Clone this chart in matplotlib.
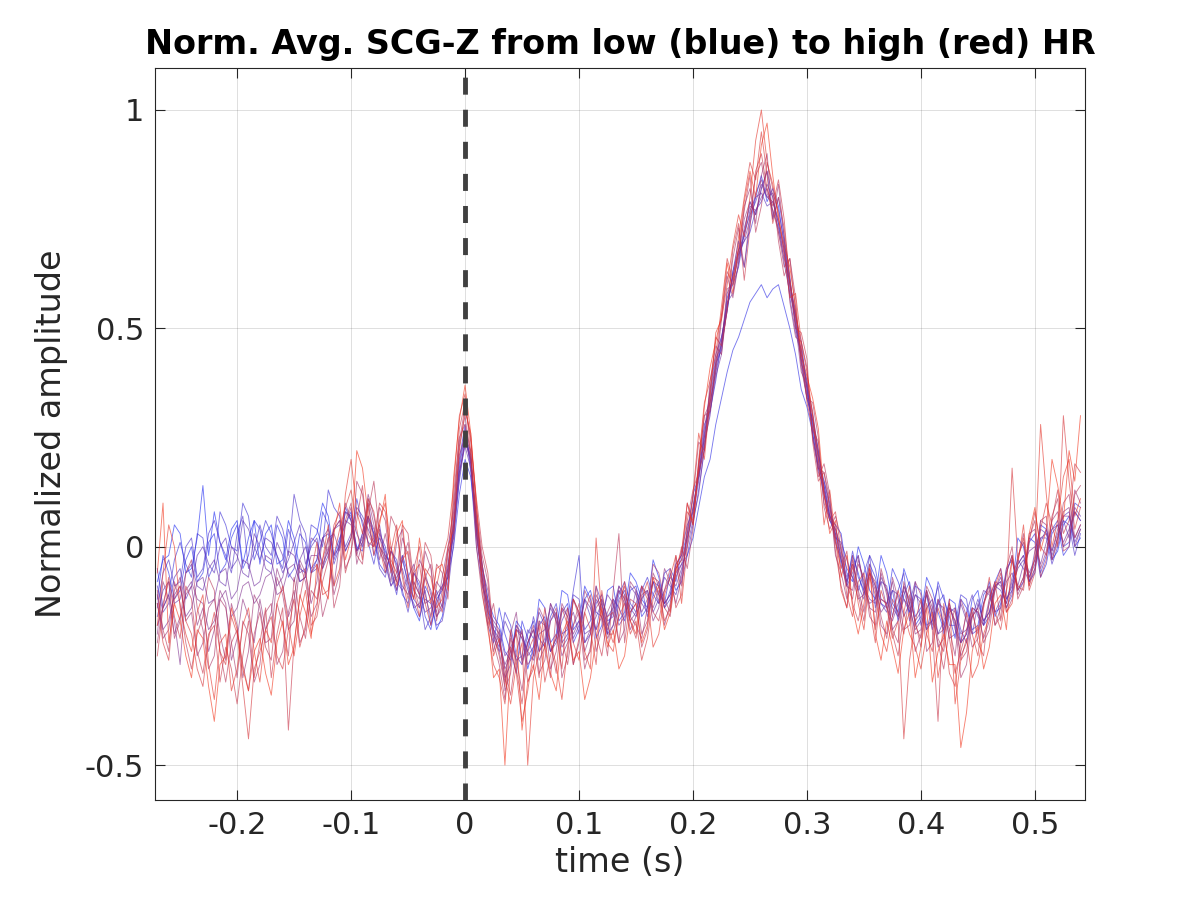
import numpy as np
import matplotlib
matplotlib.use("Agg")
import matplotlib.pyplot as plt

plt.rcParams['font.family'] = ['DejaVu Sans']
plt.rcParams['axes.unicode_minus'] = False

# time grid (s), 5 ms sampling from -0.27 s to 0.54 s
time_s = np.linspace(-0.27, 0.54, 163)

# normalized averaged SCG-Z traces, ordered from low HR (blue) to high HR (red)
trace_00 = [-0.08,-0.03,-0.02,0.05,0.03,-0.06,-0.05,0.02,0.14,-0.02,0.08,0.01,-0.03,0.04,0.06,-0.04,0.02,0.06,-0.04,0.03,
            0.05,-0.04,-0.03,0.06,0.02,-0.05,-0.06,0.01,0.03,0.10,0.07,-0.02,0.02,0.05,0.08,-0.01,0.03,0.07,-0.02,0.02,
            -0.01,-0.05,-0.10,-0.03,-0.08,-0.14,-0.17,-0.09,-0.12,-0.19,-0.16,-0.08,0.05,0.18,0.26,0.20,0.06,-0.04,-0.12,-0.16,
            -0.18,-0.24,-0.26,-0.17,-0.19,-0.28,-0.23,-0.12,-0.14,-0.22,-0.20,-0.10,-0.11,-0.19,-0.17,-0.09,-0.12,-0.21,-0.18,-0.10,
            -0.09,-0.17,-0.15,-0.06,-0.08,-0.12,-0.14,-0.03,-0.07,-0.13,-0.11,-0.04,-0.02,0.03,0.12,0.16,0.25,0.36,0.44,0.48,
            0.54,0.63,0.70,0.64,0.74,0.80,0.85,0.79,0.82,0.78,0.69,0.60,0.54,0.43,0.34,0.29,0.22,0.13,0.07,0.05,
            0.03,-0.06,-0.08,0.00,-0.04,-0.10,-0.12,-0.02,-0.06,-0.13,-0.15,-0.05,-0.09,-0.18,-0.16,-0.07,-0.10,-0.15,-0.19,-0.12,
            -0.13,-0.22,-0.20,-0.12,-0.10,-0.18,-0.16,-0.08,-0.05,-0.12,-0.10,0.02,0.00,-0.08,-0.06,0.05,0.04,-0.03,-0.01,0.05,
            0.07,0.00,0.02]
trace_01 = [-0.12,-0.02,-0.06,-0.12,-0.10,-0.03,0.00,-0.08,-0.06,0.01,0.03,-0.06,-0.04,0.02,0.05,-0.05,-0.02,0.06,0.04,-0.03,
            -0.04,0.05,0.02,-0.07,-0.05,0.03,0.01,-0.06,-0.03,0.08,0.05,-0.03,0.01,0.09,0.06,0.00,-0.01,0.07,0.03,-0.04,
            -0.06,-0.01,-0.04,-0.11,-0.13,-0.06,-0.09,-0.16,-0.19,-0.12,-0.10,-0.07,0.00,0.12,0.20,0.16,0.04,-0.08,-0.18,-0.22,
            -0.14,-0.20,-0.24,-0.29,-0.17,-0.21,-0.25,-0.18,-0.16,-0.24,-0.21,-0.15,-0.13,-0.22,-0.19,-0.12,-0.10,-0.15,-0.16,-0.20,
            -0.12,-0.14,-0.17,-0.10,-0.09,-0.16,-0.14,-0.08,-0.11,-0.13,-0.06,-0.10,-0.08,-0.02,0.02,0.09,0.16,0.20,0.28,0.34,
            0.40,0.45,0.48,0.52,0.56,0.58,0.60,0.57,0.59,0.60,0.55,0.50,0.44,0.36,0.32,0.26,0.18,0.12,0.06,0.03,
            -0.03,-0.08,-0.02,-0.06,-0.11,-0.04,-0.07,-0.13,-0.14,-0.05,-0.08,-0.12,-0.15,-0.09,-0.10,-0.18,-0.17,-0.08,-0.12,-0.16,
            -0.21,-0.12,-0.14,-0.19,-0.18,-0.11,-0.09,-0.16,-0.13,-0.05,-0.03,-0.10,-0.08,0.02,0.01,-0.07,-0.04,0.03,0.05,-0.02,
            0.00,0.08,0.06]
trace_02 = [-0.05,-0.14,-0.11,-0.03,0.01,-0.04,-0.07,0.03,0.02,-0.07,-0.04,0.08,0.05,0.00,-0.01,0.10,0.07,-0.03,0.01,0.06,
            0.03,-0.02,-0.05,0.04,0.00,-0.08,-0.07,0.05,0.04,0.00,0.13,0.09,0.07,-0.01,0.02,0.11,0.05,0.01,-0.04,0.03,
            0.00,-0.06,-0.11,-0.02,-0.06,-0.12,-0.14,-0.10,-0.18,-0.13,-0.09,-0.05,0.06,0.20,0.28,0.17,0.00,-0.09,-0.13,-0.20,
            -0.23,-0.15,-0.18,-0.25,-0.27,-0.20,-0.17,-0.24,-0.22,-0.16,-0.13,-0.20,-0.19,-0.10,-0.02,-0.22,-0.20,-0.13,-0.11,-0.17,
            -0.16,-0.11,-0.08,-0.13,-0.15,-0.10,-0.07,-0.11,-0.13,-0.06,-0.05,-0.08,-0.01,0.05,0.08,0.18,0.28,0.31,0.38,0.47,
            0.57,0.60,0.64,0.72,0.79,0.76,0.82,0.86,0.75,0.80,0.71,0.62,0.50,0.45,0.38,0.26,0.18,0.15,0.10,0.02,
            -0.04,-0.09,-0.01,-0.07,-0.10,-0.02,-0.05,-0.12,-0.13,-0.10,-0.17,-0.11,-0.08,-0.16,-0.14,-0.10,-0.19,-0.13,-0.11,-0.18,
            -0.18,-0.11,-0.12,-0.20,-0.19,-0.13,-0.08,-0.15,-0.14,-0.06,-0.02,-0.10,-0.07,0.01,0.03,-0.06,-0.02,0.04,0.06,0.00,
            0.01,0.10,0.09]
trace_03 = [-0.14,-0.06,-0.03,-0.09,-0.08,0.00,0.02,-0.07,-0.05,0.03,0.06,0.01,-0.02,-0.06,0.03,0.07,-0.05,-0.01,0.05,0.00,
            -0.02,0.07,0.04,-0.02,0.12,0.06,0.03,-0.06,-0.05,0.02,0.03,-0.04,0.00,0.08,0.07,0.03,0.00,0.10,0.02,-0.05,
            -0.07,-0.01,-0.03,-0.10,-0.15,-0.08,-0.11,-0.19,-0.16,-0.10,-0.14,-0.06,0.03,0.15,0.24,0.21,0.03,-0.07,-0.16,-0.19,
            -0.21,-0.30,-0.27,-0.18,-0.20,-0.24,-0.16,-0.21,-0.23,-0.17,-0.15,-0.22,-0.20,-0.11,-0.12,-0.19,-0.17,-0.09,-0.13,-0.20,
            -0.18,-0.12,-0.10,-0.15,-0.13,-0.09,-0.16,-0.11,-0.08,-0.14,-0.12,-0.06,-0.04,-0.02,0.05,0.13,0.22,0.34,0.42,0.45,
            0.55,0.62,0.67,0.70,0.72,0.77,0.79,0.83,0.80,0.74,0.65,0.58,0.53,0.47,0.36,0.28,0.19,0.14,0.07,0.02,
            0.01,-0.03,-0.07,-0.10,-0.06,-0.02,-0.14,-0.08,-0.09,-0.16,-0.10,-0.06,-0.17,-0.11,-0.12,-0.19,-0.14,-0.09,-0.20,-0.15,
            -0.14,-0.19,-0.22,-0.16,-0.12,-0.17,-0.15,-0.09,-0.08,-0.14,-0.11,-0.04,-0.02,-0.08,-0.05,0.02,0.02,-0.04,0.00,0.06,
            0.05,-0.02,0.03]
trace_04 = [-0.09,-0.15,-0.13,-0.07,-0.05,-0.12,-0.09,-0.02,0.00,-0.04,-0.06,0.00,0.02,-0.05,-0.03,0.06,0.04,0.00,-0.03,0.02,
            0.01,-0.02,-0.06,-0.03,0.01,0.05,-0.04,0.00,0.02,-0.05,-0.02,0.04,0.06,0.00,0.03,0.09,0.07,0.04,0.01,0.05,
            -0.03,-0.09,-0.07,-0.05,-0.10,-0.13,-0.16,-0.12,-0.13,-0.18,-0.17,-0.10,0.01,0.16,0.25,0.19,0.05,-0.05,-0.14,-0.21,
            -0.24,-0.17,-0.20,-0.26,-0.25,-0.19,-0.21,-0.15,-0.18,-0.24,-0.22,-0.17,-0.14,-0.21,-0.18,-0.12,-0.16,-0.19,-0.12,-0.16,
            -0.14,-0.09,-0.11,-0.14,-0.16,-0.12,-0.10,-0.15,-0.12,-0.07,-0.09,-0.11,-0.06,0.01,0.09,0.17,0.26,0.33,0.40,0.46,
            0.54,0.63,0.68,0.71,0.77,0.80,0.81,0.78,0.79,0.74,0.68,0.57,0.49,0.44,0.37,0.27,0.21,0.15,0.09,0.03,
            -0.02,-0.07,-0.04,-0.09,-0.12,-0.06,-0.09,-0.13,-0.15,-0.10,-0.11,-0.16,-0.13,-0.08,-0.18,-0.14,-0.12,-0.20,-0.17,-0.13,
            -0.19,-0.22,-0.15,-0.11,-0.16,-0.18,-0.13,-0.09,-0.10,-0.13,-0.07,-0.03,-0.05,-0.08,-0.01,0.04,0.03,-0.02,0.02,0.07,
            0.08,0.01,0.04]
trace_05 = [-0.16,-0.10,-0.08,-0.13,-0.12,-0.06,-0.04,-0.09,-0.10,-0.05,-0.03,-0.08,-0.09,0.00,-0.02,-0.06,-0.07,0.03,0.00,-0.05,
            -0.06,0.01,-0.02,-0.06,-0.08,-0.03,0.00,-0.05,-0.03,0.02,0.04,-0.02,0.00,0.08,0.06,-0.01,0.02,0.06,0.03,-0.01,
            -0.04,-0.09,-0.06,-0.02,-0.09,-0.14,-0.13,-0.07,-0.10,-0.16,-0.14,-0.05,0.04,0.17,0.23,0.18,0.07,-0.04,-0.12,-0.18,
            -0.20,-0.28,-0.25,-0.19,-0.21,-0.24,-0.26,-0.20,-0.19,-0.14,-0.17,-0.23,-0.21,-0.12,-0.15,-0.20,-0.19,-0.16,-0.13,-0.18,
            -0.15,-0.10,-0.12,-0.16,-0.10,-0.13,-0.15,-0.08,-0.09,-0.14,-0.10,-0.05,-0.03,0.02,0.07,0.15,0.24,0.30,0.41,0.47,
            0.56,0.58,0.65,0.72,0.76,0.79,0.83,0.80,0.81,0.77,0.70,0.61,0.52,0.42,0.34,0.29,0.20,0.12,0.06,0.04,
            0.00,-0.09,-0.06,-0.02,-0.09,-0.12,-0.13,-0.07,-0.10,-0.14,-0.16,-0.09,-0.12,-0.17,-0.15,-0.11,-0.18,-0.13,-0.14,-0.21,
            -0.20,-0.13,-0.17,-0.20,-0.13,-0.17,-0.15,-0.10,-0.07,-0.12,-0.09,-0.05,-0.03,-0.07,-0.04,0.01,0.04,-0.01,0.03,0.06,
            0.02,0.09,0.07]
trace_06 = [-0.13,-0.19,-0.17,-0.11,-0.09,-0.16,-0.14,-0.08,-0.07,-0.13,-0.12,-0.06,-0.05,-0.12,-0.10,-0.03,-0.04,-0.09,-0.08,-0.02,
            -0.03,-0.09,-0.07,-0.01,-0.02,-0.06,-0.05,0.02,0.01,-0.04,-0.01,0.04,0.05,-0.01,0.02,0.08,0.06,0.01,0.00,0.04,
            -0.02,-0.04,-0.08,-0.10,-0.07,-0.04,-0.11,-0.15,-0.14,-0.11,-0.09,-0.07,0.03,0.19,0.27,0.19,0.02,-0.07,-0.15,-0.17,
            -0.19,-0.25,-0.23,-0.20,-0.26,-0.22,-0.19,-0.24,-0.21,-0.13,-0.16,-0.21,-0.18,-0.15,-0.20,-0.12,-0.14,-0.19,-0.16,-0.11,
            -0.13,-0.18,-0.16,-0.09,-0.11,-0.15,-0.12,-0.08,-0.13,-0.10,-0.07,-0.09,-0.05,0.00,0.06,0.12,0.23,0.31,0.39,0.44,
            0.58,0.61,0.66,0.73,0.78,0.77,0.80,0.82,0.77,0.73,0.67,0.59,0.51,0.45,0.36,0.25,0.17,0.14,0.08,0.01,
            -0.03,-0.08,-0.05,-0.02,-0.10,-0.13,-0.12,-0.08,-0.14,-0.17,-0.13,-0.10,-0.15,-0.11,-0.13,-0.19,-0.17,-0.12,-0.18,-0.14,
            -0.15,-0.20,-0.19,-0.16,-0.14,-0.10,-0.11,-0.15,-0.12,-0.08,-0.06,-0.09,-0.04,-0.01,0.00,-0.04,0.01,0.04,0.05,0.01,
            0.04,0.08,0.06]
trace_07 = [-0.18,-0.14,-0.11,-0.17,-0.27,-0.10,-0.08,-0.12,-0.13,-0.19,-0.17,-0.12,-0.10,-0.16,-0.14,-0.09,-0.08,-0.13,-0.11,-0.07,
            -0.06,-0.11,-0.10,-0.05,-0.04,-0.08,-0.07,-0.02,-0.02,-0.05,0.02,0.03,-0.01,0.06,0.05,-0.01,0.01,0.07,0.04,0.00,
            -0.03,0.00,-0.05,-0.09,-0.11,-0.06,-0.08,-0.13,-0.12,-0.08,-0.10,-0.04,0.05,0.17,0.24,0.20,0.04,-0.06,-0.13,-0.19,
            -0.22,-0.27,-0.24,-0.19,-0.20,-0.25,-0.23,-0.17,-0.18,-0.24,-0.21,-0.14,-0.16,-0.20,-0.17,-0.22,-0.19,-0.12,-0.15,-0.19,
            -0.14,-0.10,-0.13,-0.17,-0.15,-0.09,-0.11,-0.14,-0.10,-0.13,-0.11,-0.07,-0.04,0.02,0.08,0.16,0.25,0.32,0.42,0.48,
            0.55,0.62,0.68,0.70,0.75,0.81,0.84,0.80,0.79,0.75,0.68,0.60,0.53,0.43,0.35,0.30,0.22,0.13,0.07,0.04,
            -0.01,-0.05,-0.07,-0.12,-0.11,-0.06,-0.10,-0.15,-0.13,-0.08,-0.16,-0.12,-0.14,-0.19,-0.17,-0.11,-0.15,-0.20,-0.19,-0.14,
            -0.17,-0.22,-0.20,-0.14,-0.15,-0.18,-0.12,-0.08,-0.09,-0.13,-0.08,-0.04,-0.02,-0.06,-0.03,0.02,0.03,-0.01,0.04,0.07,
            0.07,0.02,0.05]
trace_08 = [-0.20,-0.08,-0.12,-0.20,-0.16,-0.11,-0.09,-0.18,-0.14,-0.24,-0.19,-0.10,-0.13,-0.26,-0.21,-0.12,-0.16,-0.22,-0.12,-0.19,
            -0.15,-0.05,-0.09,-0.16,-0.12,-0.03,-0.06,-0.13,-0.08,0.02,-0.02,-0.09,0.01,0.10,0.06,-0.02,0.03,0.12,0.07,0.00,
            -0.02,-0.08,0.01,0.04,-0.07,-0.12,-0.03,-0.06,-0.11,-0.15,-0.07,0.00,0.08,0.21,0.25,0.22,0.06,-0.05,-0.10,-0.19,
            -0.24,-0.31,-0.20,-0.15,-0.27,-0.22,-0.19,-0.26,-0.23,-0.13,-0.17,-0.25,-0.22,-0.18,-0.15,-0.24,-0.20,-0.11,-0.14,-0.21,
            -0.18,-0.09,-0.12,-0.19,-0.16,-0.11,-0.10,-0.17,-0.14,-0.05,-0.08,-0.13,-0.07,0.03,0.09,0.16,0.27,0.35,0.43,0.46,
            0.59,0.60,0.67,0.75,0.79,0.76,0.82,0.86,0.80,0.72,0.66,0.61,0.51,0.40,0.37,0.31,0.21,0.10,0.06,0.05,
            -0.03,-0.09,-0.10,-0.03,-0.08,-0.14,-0.15,-0.06,-0.11,-0.19,-0.17,-0.09,-0.13,-0.20,-0.19,-0.10,-0.14,-0.23,-0.21,-0.13,
            -0.18,-0.25,-0.22,-0.14,-0.15,-0.21,-0.17,-0.09,-0.08,-0.14,-0.10,-0.02,0.01,-0.07,-0.03,0.06,0.05,-0.03,0.02,0.08,
            0.09,0.00,0.04]
trace_09 = [-0.11,-0.21,-0.19,-0.10,-0.07,-0.17,-0.15,-0.25,-0.22,-0.14,-0.12,-0.20,-0.26,-0.13,-0.18,-0.30,-0.24,-0.11,-0.14,-0.22,
            -0.21,-0.07,-0.11,-0.19,-0.17,-0.04,-0.08,-0.16,-0.13,-0.05,0.00,-0.11,-0.06,0.05,0.09,-0.04,0.01,0.11,0.05,-0.03,
            0.03,-0.04,-0.08,0.02,-0.02,-0.10,-0.12,-0.01,-0.05,-0.16,-0.13,-0.02,0.10,0.23,0.30,0.20,0.03,-0.07,-0.15,-0.24,
            -0.19,-0.33,-0.29,-0.18,-0.21,-0.27,-0.25,-0.14,-0.17,-0.28,-0.24,-0.13,-0.16,-0.27,-0.22,-0.10,-0.13,-0.24,-0.19,-0.15,
            -0.12,-0.22,-0.19,-0.08,-0.10,-0.20,-0.17,-0.06,-0.09,-0.18,-0.13,-0.04,-0.02,0.10,0.05,0.19,0.30,0.33,0.40,0.52,
            0.62,0.57,0.65,0.78,0.82,0.74,0.85,0.90,0.75,0.83,0.71,0.56,0.48,0.47,0.41,0.25,0.18,0.17,0.11,-0.02,
            -0.06,-0.12,-0.03,-0.10,-0.15,-0.05,-0.09,-0.18,-0.20,-0.07,-0.12,-0.19,-0.18,-0.08,-0.11,-0.24,-0.22,-0.12,-0.15,-0.19,
            -0.25,-0.12,-0.16,-0.23,-0.21,-0.13,-0.10,-0.18,-0.14,-0.06,-0.02,-0.11,-0.08,0.03,0.04,-0.05,-0.01,0.06,0.08,0.00,
            0.03,0.13,0.10]
trace_10 = [-0.22,-0.13,-0.08,-0.21,-0.17,-0.06,-0.03,-0.14,-0.19,-0.28,-0.25,-0.12,-0.14,-0.22,-0.30,-0.17,-0.20,-0.31,-0.27,-0.15,
            -0.13,-0.27,-0.24,-0.15,-0.10,-0.22,-0.19,-0.06,-0.04,-0.16,-0.11,0.04,0.06,-0.05,-0.02,0.15,0.12,0.03,0.00,0.09,
            0.06,-0.05,-0.10,-0.03,0.01,-0.09,-0.14,-0.07,-0.04,-0.17,-0.10,-0.01,0.02,0.24,0.32,0.25,0.09,-0.02,-0.08,-0.22,
            -0.27,-0.35,-0.21,-0.26,-0.33,-0.22,-0.18,-0.29,-0.26,-0.17,-0.14,-0.30,-0.25,-0.12,-0.16,-0.28,-0.23,-0.14,-0.12,-0.20,
            -0.20,-0.13,-0.09,-0.16,-0.18,-0.21,-0.14,-0.04,-0.06,-0.12,-0.15,-0.02,-0.09,0.04,0.11,0.24,0.22,0.38,0.46,0.44,
            0.55,0.66,0.73,0.64,0.76,0.85,0.88,0.81,0.77,0.72,0.64,0.66,0.57,0.41,0.34,0.33,0.25,0.09,0.04,0.07,
            0.02,-0.09,-0.12,-0.04,-0.07,-0.16,-0.18,-0.05,-0.10,-0.19,-0.22,-0.08,-0.13,-0.24,-0.20,-0.09,-0.12,-0.21,-0.24,-0.14,
            -0.17,-0.30,-0.27,-0.16,-0.14,-0.22,-0.19,-0.10,-0.06,-0.15,-0.12,-0.03,0.03,-0.09,-0.05,0.06,0.07,-0.03,0.01,0.10,
            0.12,0.02,0.05]
trace_11 = [-0.10,-0.19,-0.24,-0.08,-0.13,-0.22,-0.28,-0.20,-0.16,-0.07,-0.10,-0.24,-0.31,-0.22,-0.19,-0.27,-0.33,-0.20,-0.15,-0.23,
            -0.26,-0.13,-0.18,-0.25,-0.07,-0.16,-0.21,-0.10,-0.12,-0.03,0.02,-0.14,-0.09,0.06,0.10,-0.02,-0.04,0.08,0.15,0.03,
            -0.05,0.07,0.04,-0.06,-0.12,-0.05,0.00,-0.11,-0.16,-0.04,-0.06,-0.12,0.12,0.25,0.28,0.22,0.00,-0.11,-0.18,-0.13,
            -0.22,-0.28,-0.34,-0.24,-0.19,-0.31,-0.28,-0.17,-0.23,-0.30,-0.15,-0.21,-0.27,-0.18,-0.13,-0.26,-0.24,-0.09,-0.17,-0.25,
            -0.10,0.03,-0.22,-0.12,-0.13,-0.23,-0.19,-0.07,-0.08,-0.14,-0.16,-0.06,0.00,-0.05,0.04,0.19,0.30,0.31,0.42,0.53,
            0.63,0.60,0.68,0.77,0.85,0.72,0.78,0.88,0.82,0.70,0.62,0.66,0.54,0.42,0.38,0.30,0.16,0.19,0.12,-0.01,
            -0.09,-0.14,-0.02,-0.11,-0.17,-0.06,-0.08,-0.16,-0.21,-0.12,-0.15,-0.20,-0.11,-0.17,-0.23,-0.10,-0.16,-0.22,-0.28,-0.19,
            -0.14,-0.26,-0.24,-0.15,-0.20,-0.13,-0.09,-0.18,-0.16,-0.05,0.00,-0.12,-0.09,0.02,0.06,-0.07,-0.03,0.07,0.11,-0.01,
            0.00,0.12,0.14]
trace_12 = [-0.25,-0.14,-0.07,-0.16,-0.21,-0.09,-0.12,-0.24,-0.29,-0.20,-0.18,-0.31,-0.23,-0.28,-0.36,-0.25,-0.17,-0.30,-0.22,-0.14,
            -0.30,-0.20,-0.14,-0.42,-0.22,-0.12,-0.05,-0.18,-0.16,-0.08,-0.03,0.05,0.08,-0.06,-0.01,0.06,0.14,0.00,0.02,0.10,
            0.08,-0.03,-0.06,0.05,0.03,-0.08,-0.11,0.01,-0.02,-0.12,-0.15,-0.05,0.07,0.27,0.33,0.24,0.11,0.00,-0.06,-0.20,
            -0.25,-0.32,-0.19,-0.28,-0.36,-0.24,-0.21,-0.30,-0.17,-0.22,-0.29,-0.14,-0.18,-0.27,-0.21,-0.15,-0.11,-0.20,-0.25,-0.16,
            -0.15,-0.22,-0.11,-0.17,-0.21,-0.12,-0.08,-0.15,-0.17,-0.10,-0.05,-0.14,-0.11,0.06,0.13,0.17,0.22,0.36,0.48,0.46,
            0.54,0.68,0.74,0.61,0.73,0.86,0.90,0.82,0.78,0.84,0.75,0.60,0.50,0.49,0.43,0.24,0.15,0.17,0.09,0.01,
            -0.05,-0.01,-0.13,-0.17,-0.10,-0.04,-0.19,-0.12,-0.13,-0.20,-0.25,-0.15,-0.09,-0.18,-0.21,-0.13,-0.19,-0.40,-0.13,-0.21,
            -0.29,-0.24,-0.19,-0.14,-0.22,-0.25,-0.12,-0.08,-0.17,-0.10,-0.03,-0.09,-0.10,0.01,0.08,0.00,-0.02,0.06,0.13,0.03,
            0.06,0.19,0.17]
trace_13 = [-0.13,-0.22,-0.26,-0.12,-0.09,-0.17,-0.20,-0.28,-0.32,-0.21,-0.15,-0.24,-0.27,-0.16,-0.20,-0.32,-0.44,-0.28,-0.24,-0.19,
            -0.16,-0.25,-0.28,-0.19,-0.12,-0.23,-0.18,-0.06,0.01,-0.11,-0.10,-0.02,0.04,0.09,0.13,0.04,-0.03,0.11,0.08,0.00,
            -0.06,-0.01,0.05,-0.07,-0.14,-0.06,-0.04,-0.13,-0.18,-0.09,-0.03,0.02,0.14,0.30,0.35,0.21,0.06,-0.10,-0.19,-0.27,
            -0.30,-0.36,-0.23,-0.29,-0.40,-0.33,-0.24,-0.18,-0.31,-0.25,-0.20,-0.28,-0.14,-0.22,-0.26,-0.15,-0.19,-0.27,-0.10,-0.18,
            -0.22,-0.16,-0.13,-0.20,-0.17,-0.26,-0.21,-0.12,-0.09,-0.17,-0.14,-0.05,-0.03,0.08,0.06,0.20,0.33,0.38,0.44,0.55,
            0.66,0.61,0.71,0.80,0.88,0.84,0.95,0.85,0.74,0.80,0.73,0.61,0.53,0.46,0.33,0.27,0.24,0.12,0.06,0.08,
            -0.01,-0.11,-0.16,-0.08,-0.06,-0.14,-0.22,-0.10,-0.14,-0.21,-0.17,-0.44,-0.26,-0.17,-0.12,-0.20,-0.24,-0.14,-0.18,-0.29,
            -0.32,-0.22,-0.15,-0.20,-0.25,-0.14,-0.07,-0.15,-0.19,-0.11,0.18,-0.03,0.02,-0.10,-0.06,0.04,0.10,0.05,0.00,0.30,
            0.15,0.04,0.09]
trace_14 = [-0.18,-0.06,0.05,0.00,-0.14,-0.20,-0.24,-0.15,-0.11,-0.27,-0.35,-0.22,-0.20,-0.33,-0.28,-0.18,-0.14,-0.24,-0.31,-0.19,
            -0.22,-0.13,-0.09,-0.18,-0.25,-0.16,-0.10,-0.20,-0.14,-0.03,0.05,-0.09,-0.05,0.12,0.20,0.08,0.03,0.10,0.00,0.06,
            0.10,0.00,-0.09,-0.03,-0.01,-0.10,-0.16,-0.05,-0.07,-0.14,-0.12,0.00,0.04,0.22,0.31,0.26,0.08,-0.04,-0.14,-0.25,
            -0.21,-0.30,-0.36,-0.27,-0.22,-0.50,-0.30,-0.24,-0.14,-0.22,-0.27,-0.35,-0.23,-0.12,-0.15,-0.24,-0.28,0.02,-0.16,-0.22,
            -0.24,-0.15,-0.08,-0.17,-0.20,-0.09,-0.12,-0.23,-0.20,-0.11,-0.07,-0.02,-0.13,0.00,0.12,0.26,0.20,0.34,0.49,0.52,
            0.60,0.69,0.76,0.71,0.80,0.93,1.00,0.88,0.83,0.76,0.67,0.57,0.58,0.47,0.40,0.30,0.20,0.05,0.13,0.02,
            -0.10,-0.14,-0.04,-0.13,-0.19,-0.07,-0.11,-0.20,-0.24,-0.16,-0.10,-0.15,-0.20,-0.23,-0.28,-0.20,-0.15,-0.30,-0.22,-0.12,
            -0.36,-0.26,-0.21,-0.30,-0.27,-0.20,-0.16,-0.09,-0.05,-0.15,-0.13,-0.04,0.05,-0.09,-0.02,0.28,0.12,0.00,0.06,0.16,
            0.20,0.07,0.11]
trace_15 = [-0.06,0.10,-0.22,-0.13,-0.17,-0.25,-0.30,-0.19,-0.21,-0.32,-0.40,-0.27,-0.25,-0.14,-0.19,-0.28,-0.33,-0.24,-0.21,-0.29,
            -0.34,-0.22,-0.17,-0.27,-0.23,-0.11,-0.15,-0.21,-0.04,-0.09,-0.12,0.03,0.10,-0.03,0.02,0.22,0.18,0.07,-0.02,0.05,
            0.12,-0.06,0.03,0.06,-0.08,-0.12,0.02,-0.07,-0.13,-0.05,-0.04,-0.10,0.16,0.29,0.37,0.26,0.10,-0.08,-0.17,-0.30,
            -0.28,-0.50,-0.26,-0.19,-0.42,-0.31,-0.27,-0.35,-0.22,-0.29,-0.33,-0.20,-0.17,-0.26,-0.24,-0.35,-0.30,-0.21,-0.14,-0.23,
            -0.19,-0.28,-0.25,-0.15,-0.13,-0.22,-0.18,-0.07,-0.11,-0.19,-0.15,-0.05,-0.01,0.10,0.05,0.18,0.32,0.41,0.47,0.53,
            0.65,0.58,0.69,0.79,0.86,0.80,0.92,0.97,0.85,0.75,0.69,0.64,0.55,0.44,0.39,0.34,0.27,0.12,0.03,0.06,
            -0.07,-0.02,-0.14,-0.20,-0.13,-0.05,-0.20,-0.26,-0.17,-0.23,-0.29,-0.19,-0.15,-0.30,-0.23,-0.14,-0.31,-0.24,-0.20,-0.27,
            -0.27,-0.46,-0.38,-0.24,-0.18,-0.28,-0.23,-0.13,-0.11,-0.19,-0.02,-0.10,-0.07,0.03,0.09,-0.01,0.04,0.20,0.14,0.06,
            0.22,0.15,0.30]

traces = [trace_00, trace_01, trace_02, trace_03, trace_04, trace_05,
          trace_06, trace_07, trace_08, trace_09, trace_10, trace_11,
          trace_12, trace_13, trace_14, trace_15]

xticks = [-0.2, -0.1, 0, 0.1, 0.2, 0.3, 0.4, 0.5]
xticklabels = ['-0.2', '-0.1', '0', '0.1', '0.2', '0.3', '0.4', '0.5']
yticks = [-0.5, 0, 0.5, 1]
yticklabels = ['-0.5', '0', '0.5', '1']

fig = plt.figure(figsize=(12, 9), dpi=100)
ax = fig.add_axes([0.1292, 0.1111, 0.775, 0.8133])

low_color = np.array([0.10, 0.15, 0.95])
high_color = np.array([0.95, 0.20, 0.10])
n = len(traces)
for k, tr in enumerate(traces):
    c = k / (n - 1)
    col = tuple((1 - c) * low_color + c * high_color)
    ax.plot(time_s, tr, color=col, alpha=0.62, lw=0.65, zorder=2)

ax.axvline(0, color=(0.25, 0.25, 0.25), lw=3.5, linestyle=(0, (3.5, 3.1)), zorder=3)

ax.set_xlim(-0.272, 0.544)
ax.set_ylim(-0.58, 1.096)
ax.set_xticks(xticks)
ax.set_xticklabels(xticklabels)
ax.set_yticks(yticks)
ax.set_yticklabels(yticklabels)

txt = (0.15, 0.15, 0.15)
ax.grid(True, color=(0.15, 0.15, 0.15), alpha=0.15, lw=0.7)
ax.set_axisbelow(True)
ax.tick_params(direction='in', length=7, width=0.8, colors=txt, labelsize=22,
               top=True, right=True, pad=8)
for s in ax.spines.values():
    s.set_color(txt)
    s.set_linewidth(0.8)

ax.set_xlabel('time (s)', fontsize=24, color=txt, labelpad=4)
ax.set_ylabel('Normalized amplitude', fontsize=24, color=txt, labelpad=12)
ax.set_title('Norm. Avg. SCG-Z from low (blue) to high (red) HR',
             fontsize=24, fontweight='bold', color='black', pad=10)

fig.savefig('out.png', dpi=100)
